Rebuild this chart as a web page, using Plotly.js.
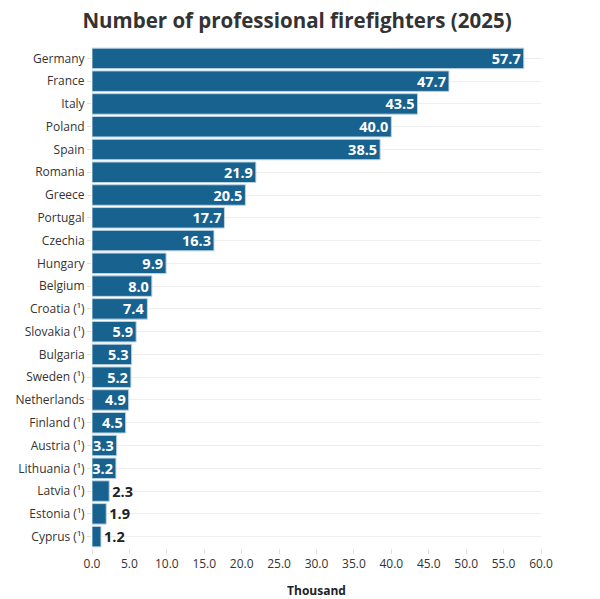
<!DOCTYPE html>
<html>
<head>
<meta charset="utf-8">
<script src="https://cdn.plot.ly/plotly-3.0.1.min.js"></script>
<style>html,body{margin:0;padding:0;background:#fff;}#chart{width:600px;height:599px;}</style>
</head>
<body>
<div id="chart"></div>
<script>
const countries = ["Germany","France","Italy","Poland","Spain","Romania","Greece","Portugal","Czechia","Hungary","Belgium","Croatia (¹)","Slovakia (¹)","Bulgaria","Sweden (¹)","Netherlands","Finland (¹)","Austria (¹)","Lithuania (¹)","Latvia (¹)","Estonia (¹)","Cyprus (¹)"];
const values = [57.7,47.7,43.5,40.0,38.5,21.9,20.5,17.7,16.3,9.9,8.0,7.4,5.9,5.3,5.2,4.9,4.5,3.3,3.2,2.3,1.9,1.2];
const tickVals = [0,5,10,15,20,25,30,35,40,45,50,55,60];

const positions = values.map(v => v >= 3 ? "inside" : "outside");
const textColors = values.map(v => v >= 3 ? "#ffffff" : "#222222");

const trace = {
  type: "bar",
  orientation: "h",
  x: values,
  y: countries,
  text: values.map(v => v.toFixed(1)),
  textposition: positions,
  insidetextanchor: "end",
  constraintext: "none",
  cliponaxis: false,
  textfont: {family: "Open Sans", size: 14.5, color: textColors, weight: "bold"},
  marker: {color: "#17628f", line: {color: "#bcd3e3", width: 1}},
  hoverinfo: "none"
};

const layout = {
  width: 600, height: 599,
  margin: {l: 92, r: 59, t: 47, b: 51},
  paper_bgcolor: "#fff", plot_bgcolor: "#fff",
  bargap: 0.1,
  font: {family: "Open Sans", color: "#333"},
  title: {text: "<b>Number of professional firefighters (2025)</b>", x: 0.495, xanchor: "center", y: 0.965, yanchor: "middle",
          font: {family: "Open Sans", size: 20.5, color: "#333"}},
  xaxis: {
    range: [0, 60], tickvals: tickVals, ticktext: tickVals.map(v => v.toFixed(1)),
    showgrid: false, zeroline: false, showline: false,
    ticks: "outside", ticklen: 5, tickcolor: "#e0e0e0",
    tickfont: {family: "Open Sans", size: 12, color: "#333"},
    title: {text: "<b>Thousand</b>", font: {family: "Open Sans", size: 12, color: "#222"}, standoff: 18},
    fixedrange: true
  },
  yaxis: {
    autorange: "reversed",
    showgrid: true, gridcolor: "#eeeeee", zeroline: false,
    ticks: "outside", ticklen: 4, tickcolor: "#e0e0e0",
    tickfont: {family: "Open Sans", size: 12, color: "#333"},
    automargin: false,
    fixedrange: true
  },
  showlegend: false
};

Plotly.newPlot("chart", [trace], layout, {displayModeBar: false, staticPlot: true});
</script>
</body>
</html>
